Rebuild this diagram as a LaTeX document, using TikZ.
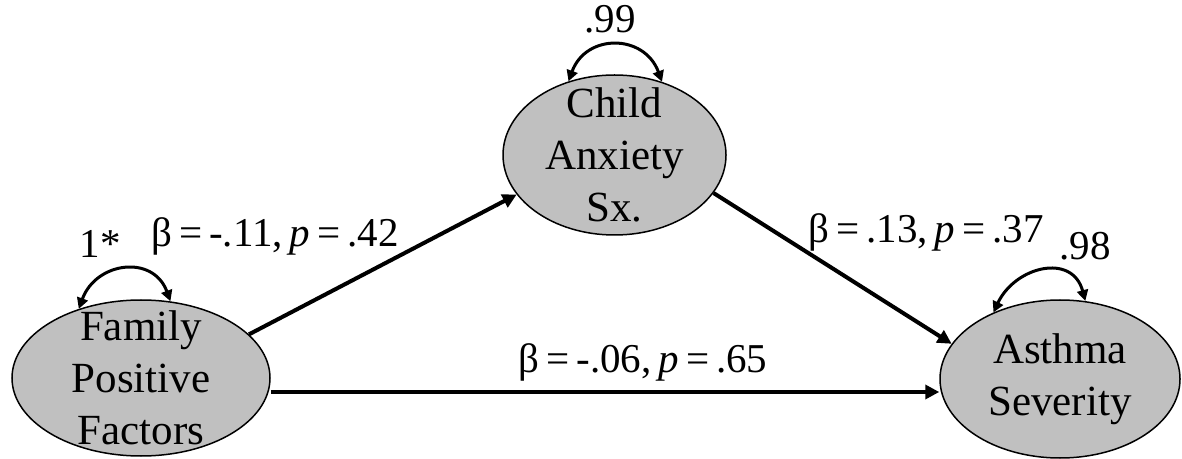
\documentclass[tikz,border=0pt]{standalone}
\usepackage{fontspec}
\setmainfont{Liberation Serif}
\usetikzlibrary{shapes.geometric, arrows.meta}
\newcommand\tightsp{\spaceskip=0.17em\relax}

\begin{document}
\begin{tikzpicture}[x=0.5pt, y=-0.5pt,
  latent/.style={ellipse, draw, line width=0.75pt, inner sep=0pt,
    fill={rgb,255:red,192;green,192;blue,192}},
  txt/.style={align=center, font=\fontsize{21.5}{26}\selectfont},
  effect/.style={line width=2pt, -{Triangle[length=7pt, width=7pt]}},
  resvar/.style={line width=1.5pt, looseness=1.4,
    {Triangle[length=5.5pt, width=5.5pt]}-{Triangle[length=5.5pt, width=5.5pt]}},
  lbl/.style={anchor=base, font=\fontsize{20.5}{24}\selectfont\tightsp}]
  \useasboundingbox (0,0) rectangle (1182,459);

  % latent variables
  \node[latent, minimum width=129pt, minimum height=78pt,
    label={[txt]center:Family\\Positive\\Factors}] (fam) at (141,378) {};
  \node[latent, minimum width=111.5pt, minimum height=80pt,
    label={[txt]center:Child\\Anxiety\\Sx.}] (anx) at (614.5,155) {};
  \node[latent, minimum width=120pt, minimum height=79pt,
    label={[txt]center:Asthma\\Severity}] (ast) at (1060,379) {};

  % paths
  \draw[effect] (fam.22) -- (anx.202);
  \draw[effect] (anx.-21) -- (ast.162);
  \coordinate (hstart) at ([yshift=-7pt]fam.east);
  \draw[effect] (hstart) -- (hstart -| ast.west);

  % residual variances
  \draw[resvar] (fam.132) to[out=70, in=110] (fam.69);
  \draw[resvar] (anx.122) to[out=70, in=110] (anx.57);
  \draw[resvar] (ast.135) to[out=65, in=105] (ast.72);

  % coefficients
  \node[lbl] (b1) at (275,247) {β = -.11, \textit{p} = .42};
  \node[lbl] (b2) at (926,243) {β = .13, \textit{p} = .37};
  \node[lbl] (b3) at (643,372) {β = -.06, \textit{p} = .65};
  \node[lbl] (v1) at (100,258) {1*};
  \node[lbl] (v2) at (610,33) {.99};
  \node[lbl] (v3) at (1085,260) {.98};
\end{tikzpicture}
\end{document}
